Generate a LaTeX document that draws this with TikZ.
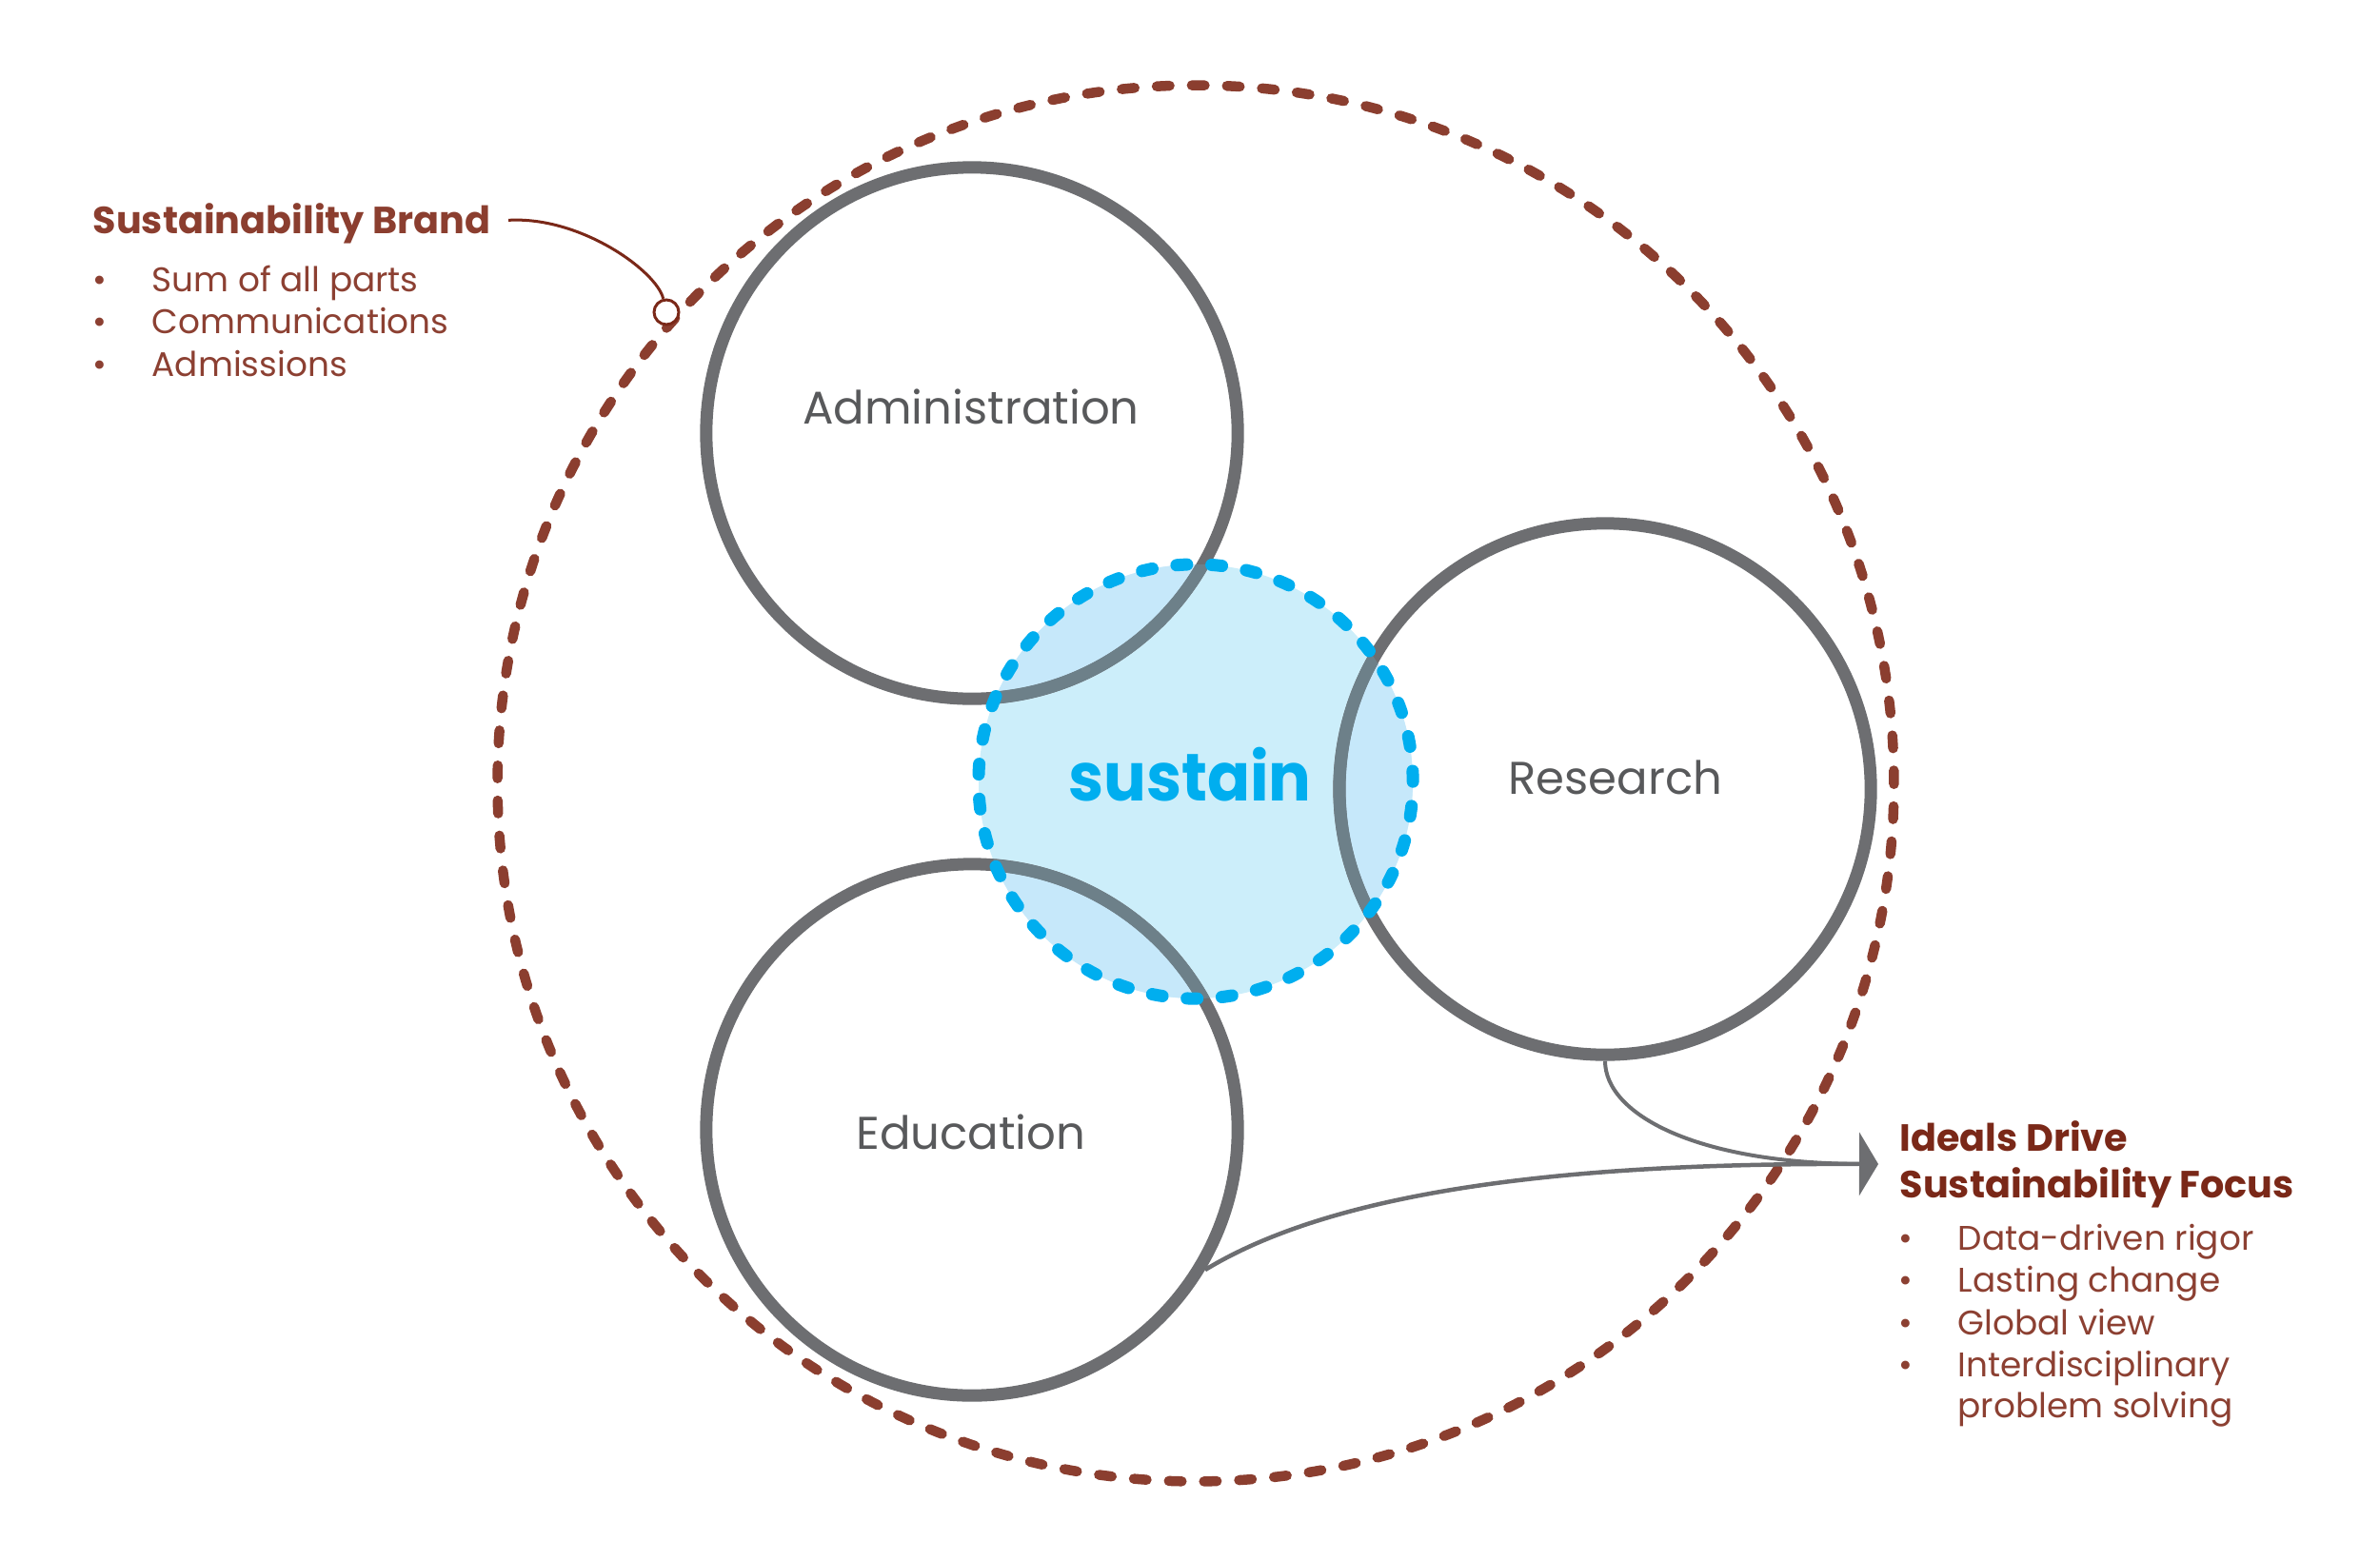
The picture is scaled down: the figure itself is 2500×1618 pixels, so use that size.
\documentclass[tikz,border=0pt]{standalone}
\usepackage{fontspec}
\setmainfont{Poppins}
\usetikzlibrary{arrows.meta}
\definecolor{brandbrown}{RGB}{139,62,47}
\definecolor{headbrown}{RGB}{122,40,24}
\definecolor{bulletbrown}{RGB}{140,64,50}
\definecolor{ringgrey}{RGB}{109,110,113}
\definecolor{labelgrey}{RGB}{88,89,91}
\definecolor{sustainblue}{RGB}{0,174,239}
\definecolor{sustainfill}{RGB}{204,238,250}
\definecolor{overlapfill}{RGB}{198,232,250}
\definecolor{ringtint}{RGB}{109,128,137}
\begin{document}
\begin{tikzpicture}[x=0.01cm,y=-0.01cm,
  ring/.style={circle, draw=ringgrey, line width=0.13cm, minimum size=5.58cm, inner sep=0pt},
  brandring/.style={circle, draw=brandbrown, line width=0.105cm, minimum size=14.66cm, inner sep=0pt,
     dash pattern=on 0.135cm off 0.23344cm, line cap=round},
  sustainring/.style={circle, draw=sustainblue, line width=0.13cm, minimum size=4.56cm, inner sep=0pt,
     dash pattern=on 0.11cm off 0.25733cm, line cap=round},
  lbl/.style={font=\fontsize{13.7}{16}\selectfont, text=labelgrey, inner sep=0pt, anchor=base},
  sus/.style={font=\bfseries\fontsize{20}{24}\selectfont, text=sustainblue, inner sep=0pt, anchor=base, xscale=0.945},
  headA/.style={font=\bfseries\fontsize{11.3}{13}\selectfont, text=brandbrown, inner sep=0pt, anchor=base west},
  headB/.style={font=\bfseries\fontsize{11.3}{13}\selectfont, text=headbrown, inner sep=0pt, anchor=base west},
  item/.style={font=\fontsize{10.2}{12}\selectfont, text=bulletbrown, inner sep=0pt, anchor=base west},
  bul/.style={font=\fontsize{10.2}{12}\selectfont, text=bulletbrown, inner sep=0pt, anchor=base},
  conn/.style={draw=ringgrey, line width=0.045cm},
  brandline/.style={draw=headbrown, line width=0.03cm},
]
\useasboundingbox (0,0) rectangle (2500,1618);

% outer brand ring
\node[brandring] (brand) at (1256,823) {};

% sustain fill and overlaps
\fill[sustainfill] (1256,821) circle[radius=228];
\begin{scope}
  \clip (1256,821) circle[radius=228];
  \fill[overlapfill] (1021,455) circle[radius=279];
  \fill[overlapfill] (1686,829) circle[radius=279];
  \fill[overlapfill] (1021,1187) circle[radius=279];
\end{scope}

% grey rings
\node[ring] (adm) at (1021,455) {};
\node[ring] (res) at (1686,829) {};
\node[ring] (edu) at (1021,1187) {};

\begin{scope}
  \clip (1256,821) circle[radius=228];
  \draw[ringtint, line width=0.13cm] (1021,455) circle[radius=279];
  \draw[ringtint, line width=0.13cm] (1686,829) circle[radius=279];
  \draw[ringtint, line width=0.13cm] (1021,1187) circle[radius=279];
\end{scope}

% sustain ring
\node[sustainring] (sring) at (1256,821) {};

% labels
\node[lbl] (admlbl) at (1020,445) {Administration};
\node[lbl] (reslbl) at (1697,834) {Research};
\node[lbl] (edulbl) at (1020,1207) {Education};
\node[sus] (suslbl) at (1250,841) {sustain};

% left text block
\node[headA] (bh) at (97,245) {Sustainability Brand};
\node[bul] (bd1) at (105,306) {•};
\node[bul] (bd2) at (105,350) {•};
\node[bul] (bd3) at (105,395) {•};
\node[item] (bi1) at (159,306) {Sum of all parts};
\node[item] (bi2) at (159,350) {Communications};
\node[item] (bi3) at (159,395) {Admissions};

% brand pointer
\node[circle, draw=headbrown, fill=white, line width=0.03cm, minimum size=0.26cm, inner sep=0pt] (bpt) at (700,328) {};
\draw[brandline] (bh.east) ++(18,-3) .. controls (610,227) and (690,285) .. (bpt);

% right text block
\node[headB] (ih1) at (1995,1209) {Ideals Drive};
\node[headB] (ih2) at (1995,1258) {Sustainability Focus};
\node[bul] (rd1) at (2002,1313) {•};
\node[bul] (rd2) at (2002,1357) {•};
\node[bul] (rd3) at (2002,1402) {•};
\node[bul] (rd4) at (2002,1446) {•};
\node[item] (ri1) at (2056,1313) {Data-driven rigor};
\node[item] (ri2) at (2056,1357) {Lasting change};
\node[item] (ri3) at (2056,1402) {Global view};
\node[item] (ri4) at (2056,1446) {Interdisciplinary};
\node[item] (ri5) at (2056,1489) {problem solving};

% connectors to the arrow
\coordinate (tip) at (1973,1223);
\draw[conn, line width=0.04cm, shorten >=0.2cm] (res.south) .. controls (1686,1170) and (1780,1222) .. (tip);
\draw[conn, -{Triangle[length=0.2cm, width=0.66cm]}] (edu.-31) .. controls (1420,1240) and (1700,1222) .. (tip);
\end{tikzpicture}
\end{document}
